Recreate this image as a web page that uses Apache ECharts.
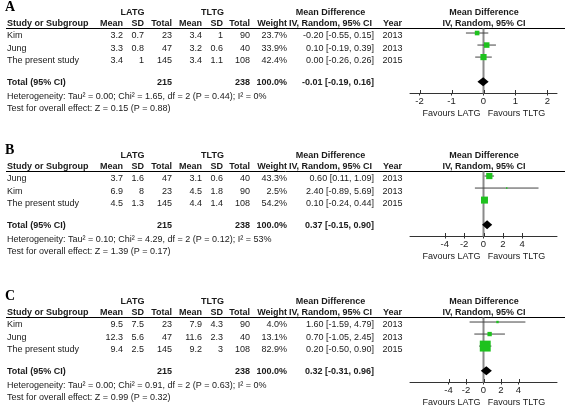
<!DOCTYPE html>
<html><head><meta charset="utf-8">
<script src="https://cdn.jsdelivr.net/npm/echarts@6/dist/echarts.min.js"></script>
<style>html,body{margin:0;padding:0;background:#fff}#c{width:567px;height:405px}</style>
</head><body><div id="c"></div>
<script>
// ---------- DATA ----------
const panelLetters = ['A', 'B', 'C'];
const studyNames = [
  ['Kim', 'Jung', 'The present study'],
  ['Jung', 'Kim', 'The present study'],
  ['Kim', 'Jung', 'The present study']
];
const latgMean = [[3.2, 3.3, 3.4], [3.7, 6.9, 4.5], [9.5, 12.3, 9.4]];
const latgSd   = [[0.7, 0.8, 1],   [1.6, 8, 1.3],   [7.5, 5.6, 2.5]];
const latgN    = [[23, 47, 145],   [47, 23, 145],   [23, 47, 145]];
const tltgMean = [[3.4, 3.2, 3.4], [3.1, 4.5, 4.4], [7.9, 11.6, 9.2]];
const tltgSd   = [[1, 0.6, 1.1],   [0.6, 1.8, 1.4], [4.3, 2.3, 3]];
const tltgN    = [[90, 40, 108],   [40, 90, 108],   [90, 40, 108]];
const weights  = [[23.7, 33.9, 42.4], [43.3, 2.5, 54.2], [4.0, 13.1, 82.9]];
const mdValues = [[-0.20, 0.10, 0.00], [0.60, 2.40, 0.10], [1.60, 0.70, 0.20]];
const ciLow    = [[-0.55, -0.19, -0.26], [0.11, -0.89, -0.24], [-1.59, -1.05, -0.50]];
const ciHigh   = [[0.15, 0.39, 0.26], [1.09, 5.69, 0.44], [4.79, 2.45, 0.90]];
const years    = [[2013, 2013, 2015], [2013, 2013, 2015], [2013, 2013, 2015]];
const totalLatgN = [215, 215, 215];
const totalTltgN = [238, 238, 238];
const totalMd  = [-0.01, 0.37, 0.32];
const totalLow = [-0.19, -0.15, -0.31];
const totalHigh = [0.16, 0.90, 0.96];
const heterogeneity = [
  'Heterogeneity: Tau² = 0.00; Chi² = 1.65, df = 2 (P = 0.44); I² = 0%',
  'Heterogeneity: Tau² = 0.10; Chi² = 4.29, df = 2 (P = 0.12); I² = 53%',
  'Heterogeneity: Tau² = 0.00; Chi² = 0.91, df = 2 (P = 0.63); I² = 0%'
];
const overallTest = [
  'Test for overall effect: Z = 0.15 (P = 0.88)',
  'Test for overall effect: Z = 1.39 (P = 0.17)',
  'Test for overall effect: Z = 0.99 (P = 0.32)'
];
const tickValues = [[-2, -1, 0, 1, 2], [-4, -2, 0, 2, 4], [-4, -2, 0, 2, 4]];
const favoursLabels = ['Favours LATG', 'Favours TLTG'];

// ---------- LAYOUT / STYLE ----------
const panelOffset = [0, 143, 289];
const axisHalfRange = [2.3, 7.6, 8.4];
const squareScale = [0.95, 0.95, 1.2];
const FONT = 'Liberation Sans, Arial, sans-serif';
const TXT = '#1a1a1a';
const colRight = [123, 144, 172, 202, 223, 250, 287];
const rowY = [36, 48.5, 60.5];
const plotLeft = 410, plotWidth = 147;
const Y_MIN = -0.5, Y_MAX = 4.9;

const graphics = [];
function txt(x, y, s, opt) {
  opt = opt || {};
  graphics.push({
    type: 'text', x: x, y: y, silent: true,
    style: {
      text: s, fill: opt.fill || TXT, align: opt.align || 'left', verticalAlign: 'middle',
      font: (opt.bold ? 'bold ' : '') + (opt.size || 9) + 'px ' + (opt.family || FONT)
    }
  });
}
const fmt2 = v => (v < 0 ? '-' : '') + Math.abs(v).toFixed(2);
const ciText = (m, l, h) => fmt2(m) + ' [' + fmt2(l) + ', ' + fmt2(h) + ']';

const grids = [], xAxes = [], yAxes = [], series = [];

panelLetters.forEach((letter, p) => {
  const o = panelOffset[p];
  txt(5, o + 7, letter, { bold: true, size: 14, family: 'Liberation Serif, Times New Roman, serif', fill: '#000' });
  txt(132.5, o + 12.7, 'LATG', { bold: true, align: 'center' });
  txt(212.5, o + 12.7, 'TLTG', { bold: true, align: 'center' });
  txt(330.5, o + 12.7, 'Mean Difference', { bold: true, align: 'center' });
  txt(484, o + 12.7, 'Mean Difference', { bold: true, align: 'center' });
  txt(7, o + 24, 'Study or Subgroup', { bold: true });
  ['Mean', 'SD', 'Total', 'Mean', 'SD', 'Total', 'Weight'].forEach((h, i) =>
    txt(colRight[i], o + 24, h, { bold: true, align: 'right' }));
  txt(330.5, o + 24, 'IV, Random, 95% CI', { bold: true, align: 'center' });
  txt(392.5, o + 24, 'Year', { bold: true, align: 'center' });
  txt(484, o + 24, 'IV, Random, 95% CI', { bold: true, align: 'center' });
  graphics.push({ type: 'line', silent: true, shape: { x1: 6, y1: o + 28.5, x2: 565, y2: o + 28.5 },
    style: { stroke: '#000', lineWidth: 1 } });

  studyNames[p].forEach((name, i) => {
    const y = o + rowY[i];
    txt(7, y, name);
    const vals = [latgMean[p][i], latgSd[p][i], latgN[p][i], tltgMean[p][i], tltgSd[p][i], tltgN[p][i]];
    vals.forEach((v, k) => txt(colRight[k], y, String(v), { align: 'right' }));
    txt(colRight[6], y, weights[p][i].toFixed(1) + '%', { align: 'right' });
    txt(374, y, ciText(mdValues[p][i], ciLow[p][i], ciHigh[p][i]), { align: 'right' });
    txt(392.5, y, String(years[p][i]), { align: 'center' });
  });
  const ty = o + 83;
  txt(7, ty, 'Total (95% CI)', { bold: true });
  txt(colRight[2], ty, String(totalLatgN[p]), { bold: true, align: 'right' });
  txt(colRight[5], ty, String(totalTltgN[p]), { bold: true, align: 'right' });
  const wsum = weights[p].reduce((a, b) => a + b, 0);
  txt(colRight[6], ty, wsum.toFixed(1) + '%', { bold: true, align: 'right' });
  txt(374, ty, ciText(totalMd[p], totalLow[p], totalHigh[p]), { bold: true, align: 'right' });
  txt(7, o + 96.5, heterogeneity[p]);
  txt(7, o + 108.3, overallTest[p]);
  txt(451.5, o + 113.7, favoursLabels[0], { align: 'center' });
  txt(516.5, o + 113.7, favoursLabels[1], { align: 'center' });

  // ---- forest plot grid ----
  grids.push({ left: plotLeft, width: plotWidth, top: o + 28.5, height: 65, show: false });
  const H = axisHalfRange[p];
  xAxes.push({
    type: 'value', gridIndex: p, min: -H, max: H, position: 'bottom',
    axisLine: { show: true, onZero: false, lineStyle: { color: '#333', width: 1 } },
    axisTick: { show: true, length: 2, customValues: tickValues[p], lineStyle: { color: '#333' } },
    axisLabel: { show: true, customValues: tickValues[p], margin: 3, fontSize: 9.5, fontFamily: FONT, color: '#222' },
    splitLine: { show: false }
  });
  yAxes.push({ type: 'value', gridIndex: p, min: Y_MIN, max: Y_MAX, inverse: true, show: false });

  // zero line
  series.push({
    type: 'line', xAxisIndex: p, yAxisIndex: p, data: [[0, Y_MIN], [0, Y_MAX]],
    symbol: 'none', lineStyle: { color: '#8a8a8a', width: 2 }, silent: true, z: 1
  });
  // upper half of the cross-shaped ticks
  series.push({
    type: 'custom', xAxisIndex: p, yAxisIndex: p, silent: true, z: 2,
    data: tickValues[p].map(v => [v]),
    renderItem: function (params, api) {
      const c = api.coord([api.value(0), Y_MAX]);
      return { type: 'line', shape: { x1: Math.round(c[0]) + 0.5, y1: c[1] - 3.5, x2: Math.round(c[0]) + 0.5, y2: c[1] },
        style: { stroke: '#333', lineWidth: 1 } };
    }
  });
  // studies
  const sdata = studyNames[p].map((n, i) => [i, mdValues[p][i], ciLow[p][i], ciHigh[p][i], weights[p][i]]);
  const sc = squareScale[p];
  series.push({
    type: 'custom', xAxisIndex: p, yAxisIndex: p, data: sdata, silent: true, z: 3,
    renderItem: function (params, api) {
      const row = api.value(0);
      const c = api.coord([api.value(1), row]);
      const l = api.coord([api.value(2), row]);
      const h = api.coord([api.value(3), row]);
      const s = Math.max(1.5, sc * Math.sqrt(api.value(4)));
      return {
        type: 'group', children: [
          { type: 'line', shape: { x1: l[0], y1: c[1] - 1.5, x2: h[0], y2: c[1] - 1.5 }, style: { stroke: '#444', lineWidth: 1 } },
          { type: 'rect', shape: { x: c[0] - s / 2, y: c[1] - 1.5 - s / 2, width: s, height: s }, style: { fill: '#1ec21e' } }
        ]
      };
    }
  });
  // total diamond
  series.push({
    type: 'custom', xAxisIndex: p, yAxisIndex: p, silent: true, z: 3,
    data: [[4, totalMd[p], totalLow[p], totalHigh[p]]],
    renderItem: function (params, api) {
      const row = api.value(0);
      const c = api.coord([api.value(1), row]);
      const l = api.coord([api.value(2), row]);
      const h = api.coord([api.value(3), row]);
      const y = c[1] - 1;
      return { type: 'polygon', shape: { points: [[l[0], y], [c[0], y - 4.5], [h[0], y], [c[0], y + 4.5]] },
        style: { fill: '#000' } };
    }
  });
});

const chart = echarts.init(document.getElementById('c'), null, { renderer: 'canvas' });
chart.setOption({
  animation: false,
  backgroundColor: '#fff',
  grid: grids, xAxis: xAxes, yAxis: yAxes, series: series,
  graphic: graphics
});
</script></body></html>
